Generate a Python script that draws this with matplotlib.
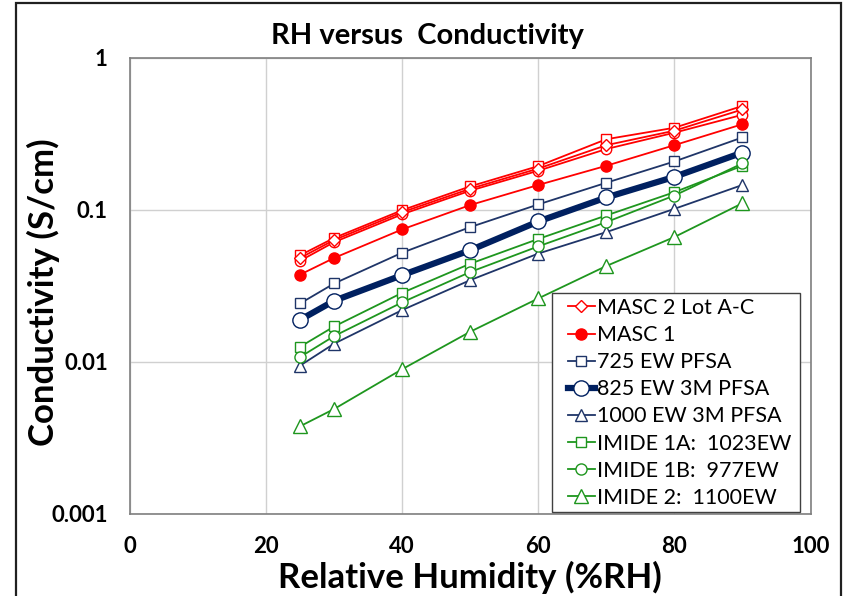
import matplotlib
matplotlib.use("Agg")
import matplotlib.pyplot as plt
from matplotlib.patches import Rectangle

plt.rcParams['font.family'] = ['Lato', 'DejaVu Sans']

rh = [25, 30, 40, 50, 60, 70, 80, 90]

masc2_lot_a = [0.050, 0.065, 0.099, 0.142, 0.193, 0.290, 0.345, 0.480]
masc2_lot_b = [0.046, 0.061, 0.093, 0.133, 0.180, 0.250, 0.320, 0.420]
masc2_lot_c = [0.048, 0.063, 0.096, 0.137, 0.186, 0.265, 0.330, 0.455]
masc1 = [0.0373, 0.048, 0.074, 0.107, 0.145, 0.194, 0.265, 0.364]
ew725 = [0.0241, 0.0326, 0.052, 0.0766, 0.108, 0.150, 0.207, 0.298]
ew825 = [0.0188, 0.0251, 0.037, 0.054, 0.0834, 0.120, 0.164, 0.237]
ew1000 = [0.0094, 0.0131, 0.0218, 0.0343, 0.0513, 0.071, 0.101, 0.145]
imide1a = [0.0125, 0.0170, 0.0283, 0.044, 0.064, 0.0914, 0.130, 0.194]
imide1b = [0.0107, 0.0147, 0.0245, 0.0388, 0.0572, 0.0826, 0.1236, 0.201]
imide2 = [0.00375, 0.00487, 0.0089, 0.0157, 0.026, 0.0425, 0.0659, 0.110]

labels = ["MASC 2 Lot A-C", "MASC 1", "725 EW PFSA", "825 EW 3M PFSA",
          "1000 EW 3M PFSA", "IMIDE 1A:  1023EW", "IMIDE 1B:  977EW",
          "IMIDE 2:  1100EW"]
xticks = [0, 20, 40, 60, 80, 100]
yticks = [0.001, 0.01, 0.1, 1]
yticklabels = ["0.001", "0.01", "0.1", "1"]

RED = '#FF0000'
NAVY = '#1F3568'
DNAVY = '#002060'
GREEN = '#1E961E'

W, H = 844, 596
fig = plt.figure(figsize=(W / 100, H / 100), dpi=100)
ax = fig.add_axes([130 / W, 1 - 513.5 / H, (810.5 - 130) / W, (513.5 - 57.5) / H])

ax.set_yscale('log')
ax.set_xlim(0, 100)
ax.set_ylim(0.001, 1)

lw = 1.3
ax.plot(rh, masc2_lot_a, color=RED, lw=lw, marker='s', ms=7.5, mfc='white', mec=RED, mew=1.0, label='_nolegend_')
ax.plot(rh, masc2_lot_b, color=RED, lw=lw, marker='o', ms=7.5, mfc='white', mec=RED, mew=1.0, label='_nolegend_')
h_m2, = ax.plot(rh, masc2_lot_c, color=RED, lw=lw, marker='D', ms=6, mfc='white', mec=RED, mew=1.0, label=labels[0])
h_m1, = ax.plot(rh, masc1, color=RED, lw=lw, marker='o', ms=8, mfc=RED, mec=RED, label=labels[1])
h_725, = ax.plot(rh, ew725, color=NAVY, lw=lw, marker='s', ms=7.5, mfc='white', mec=NAVY, mew=1.0, label=labels[2])
h_825, = ax.plot(rh, ew825, color=DNAVY, lw=4.5, marker='o', ms=11, mfc='white', mec=DNAVY, mew=1.0, label=labels[3])
h_1000, = ax.plot(rh, ew1000, color=NAVY, lw=lw, marker='^', ms=9, mfc='white', mec=NAVY, mew=1.0, label=labels[4])
h_1a, = ax.plot(rh, imide1a, color=GREEN, lw=lw, marker='s', ms=7.5, mfc='white', mec=GREEN, mew=1.0, label=labels[5])
h_1b, = ax.plot(rh, imide1b, color=GREEN, lw=lw, marker='o', ms=8, mfc='white', mec=GREEN, mew=1.0, label=labels[6])
h_2, = ax.plot(rh, imide2, color=GREEN, lw=lw, marker='^', ms=9.5, mfc='white', mec=GREEN, mew=1.0, label=labels[7])

ax.set_xticks(xticks)
ax.set_xticklabels([str(x) for x in xticks])
ax.set_yticks(yticks)
ax.set_yticklabels(yticklabels)
ax.minorticks_off()
ax.tick_params(axis='both', length=0, labelsize=16)
ax.tick_params(axis='y', pad=16)
ax.tick_params(axis='x', pad=16)
for lab in ax.get_xticklabels() + ax.get_yticklabels():
    lab.set_fontweight('bold')

ax.grid(True, which='major', color='#D0D0D0', lw=1.0)
ax.set_axisbelow(True)
for s in ax.spines.values():
    s.set_color('#7F7F7F')
    s.set_linewidth(1.2)

fig.text(427 / W, 1 - 36 / H, "RH versus  Conductivity", ha='center', va='center',
         fontsize=21, fontweight='bold')
fig.text(43 / W, 1 - 292 / H, "Conductivity (S/cm)", ha='center', va='center',
         rotation=90, fontsize=25, fontweight='bold')
fig.text(470 / W, 1 - 577 / H, "Relative Humidity (%RH)", ha='center', va='center',
         fontsize=25, fontweight='bold')

# legend frame
frame = Rectangle((552 / W, 1 - 512 / H), (800 - 552) / W, (512 - 293) / H,
                  transform=fig.transFigure, facecolor='white', edgecolor='#404040',
                  lw=1.0, zorder=4, clip_on=False)
ax.add_patch(frame)

leg = ax.legend(handles=[h_m2, h_m1, h_725, h_825, h_1000, h_1a, h_1b, h_2],
                loc='upper left', bbox_to_anchor=(568 / W, 1 - 298 / H),
                bbox_transform=fig.transFigure, frameon=False, fontsize=15.5,
                handlelength=1.25, handletextpad=0.1, labelspacing=0.33,
                borderpad=0.0, borderaxespad=0.0)
leg.set_zorder(6)

# outer chart border
fig.patches.append(Rectangle((16 / W, -0.05), (841 - 16) / W, 1.05 - 3 / H,
                             transform=fig.transFigure, fill=False,
                             edgecolor='#202020', lw=1.6))

fig.savefig("out.png", dpi=100)
